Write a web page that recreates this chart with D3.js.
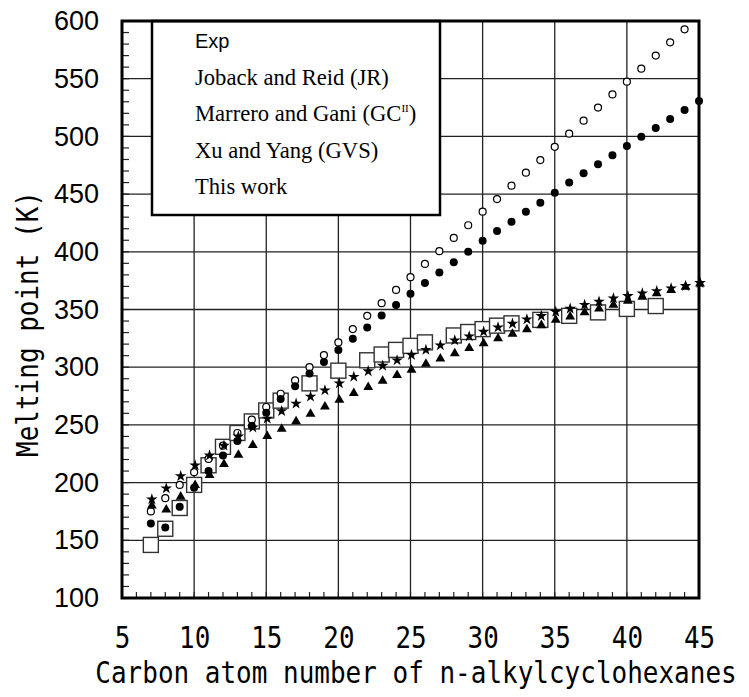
<!DOCTYPE html>
<html>
<head>
<meta charset="utf-8">
<script src="https://cdn.jsdelivr.net/npm/d3@7"></script>
<style>
  body { margin: 0; background: #fff; }
</style>
</head>
<body>
<div id="chart"></div>
<script>
// melting points (K) of n-alkylcyclohexanes
var expN = [7,8,9,10,11,12,13,14,15,16,18,20,22,23,24,25,26,28,29,30,31,32,34,36,38,40,42];
var expT = [146,160,178,198,215,231,243,253,262.5,271,286,297,306,311,315,318.5,321.5,327.5,330.5,333,336,338,341,344.5,347.5,350.5,353];

var jrN = [7,8,9,10,11,12,13,14,15,16,17,18,19,20,21,22,23,24,25,26,27,28,29,30,31,32,33,34,35,36,37,38,39,40,41,42,43,44];
var jrT = [175,186.5,198,209,220.5,232,243,254.5,265.5,277,288.5,300,310.5,321.5,333,344.5,355.5,367,378,389.5,400.5,412,423,434.8,445.7,457.3,468.6,479.5,491,502.4,513.6,525,536.4,547.4,558.7,570,581.5,592.8];

var allN = [7,8,9,10,11,12,13,14,15,16,17,18,19,20,21,22,23,24,25,26,27,28,29,30,31,32,33,34,35,36,37,38,39,40,41,42,43,44,45];
var gcT = [164.5,161,179,195.5,210,223.5,236,249,260.5,272.5,283.6,294.5,304.5,315,324.7,334.5,344.7,354,363.7,373,382,391,400,409.5,418,426,434.8,442.6,451.2,460,468,475.8,483.6,491.7,499.8,507.3,515,522.9,530.7];
var gvsT = [185.5,195,205.6,215,223.5,232,240,247.8,255.5,262,268.5,274.5,280,286,291.7,296.5,301.3,306,310.6,315,319,323.3,326.8,330.8,334.5,337.7,341.5,344.4,348,350.7,354,356.8,359.7,361.7,364,366,368.3,370.4,373];
var thisT = [180,176.5,187.7,197.7,206.4,216,224,232.5,240.2,246.6,253,259.5,265.8,271.7,277.4,282.7,288.2,293,297.6,302.8,307.4,312,316.5,320.7,325,328.8,332.8,336.3,341,343.8,347.5,350.7,354,357.4,361,364,366.8,369.6,372.5];

var xTicks = [5,10,15,20,25,30,35,40,45];
var yTicks = [100,150,200,250,300,350,400,450,500,550,600];
var legendLabels = ["Exp", "Joback and Reid (JR)", "Marrero and Gani (GC", "Xu and Yang (GVS)", "This work"];

var W = 749, H = 697;
var pL = 122, pR = 699, pT = 21, pB = 598;

var svg = d3.select("#chart").append("svg")
    .attr("width", W)
    .attr("height", H);

var x = d3.scaleLinear().domain([5, 45]).range([pL, pR]);
var y = d3.scaleLinear().domain([100, 600]).range([pB, pT]);

var pts = function(ns, vs) {
  return ns.map(function(n, i) { return {n: n, t: vs[i]}; });
};

// grid
svg.append("g").selectAll("line")
  .data(xTicks.filter(function(d) { return d > 5 && d < 45; }))
  .enter().append("line")
  .attr("x1", function(d) { return x(d); }).attr("x2", function(d) { return x(d); })
  .attr("y1", pT).attr("y2", pB)
  .attr("stroke", "#222").attr("stroke-width", 1.3);
svg.append("g").selectAll("line")
  .data(yTicks.filter(function(d) { return d > 100 && d < 600; }))
  .enter().append("line")
  .attr("y1", function(d) { return y(d); }).attr("y2", function(d) { return y(d); })
  .attr("x1", pL).attr("x2", pR)
  .attr("stroke", "#222").attr("stroke-width", 1.3);

// minor ticks, inside
svg.append("g").selectAll("line")
  .data(d3.range(110, 600, 10))
  .enter().append("line")
  .attr("y1", function(d) { return y(d); }).attr("y2", function(d) { return y(d); })
  .attr("x1", pL).attr("x2", pL + 7)
  .attr("stroke", "#222").attr("stroke-width", 1.2);
svg.append("g").selectAll("line")
  .data(d3.range(6, 45, 1))
  .enter().append("line")
  .attr("x1", function(d) { return x(d); }).attr("x2", function(d) { return x(d); })
  .attr("y1", pB).attr("y2", pB - 6)
  .attr("stroke", "#222").attr("stroke-width", 1.2);

// axes labels
var yAxis = svg.append("g")
  .attr("transform", "translate(" + pL + ",0)")
  .call(d3.axisLeft(y).tickValues(yTicks).tickSize(0).tickPadding(23));
yAxis.select(".domain").remove();
yAxis.selectAll("text")
  .attr("font-family", "'Liberation Sans', Arial, sans-serif")
  .attr("font-size", 27).attr("fill", "#000");

var xAxis = svg.append("g")
  .attr("transform", "translate(0," + pB + ")")
  .call(d3.axisBottom(x).tickValues(xTicks).tickSize(0).tickPadding(0));
xAxis.select(".domain").remove();
xAxis.selectAll("text")
  .attr("dy", null)
  .attr("y", 50)
  .attr("font-family", "'DejaVu Sans Mono', monospace")
  .attr("font-size", 30).attr("fill", "#000")
  .attr("textLength", function(d) { return String(d).length * 15.6; })
  .attr("lengthAdjust", "spacingAndGlyphs");

// narrow monospace titles: smaller font stretched vertically
svg.append("text")
  .attr("transform", "translate(416,683) scale(1,1.14)")
  .attr("text-anchor", "middle")
  .attr("font-family", "'DejaVu Sans Mono', monospace")
  .attr("font-size", 26)
  .text("Carbon atom number of n-alkylcyclohexanes");

svg.append("text")
  .attr("transform", "translate(38,324) rotate(-90) scale(1,1.14)")
  .attr("text-anchor", "middle")
  .attr("font-family", "'DejaVu Sans Mono', monospace")
  .attr("font-size", 26)
  .text("Melting point (K)");

// legend box (text only)
var lg = svg.append("g");
lg.append("rect")
  .attr("x", 152).attr("y", 21).attr("width", 288).attr("height", 194)
  .attr("fill", "#fff").attr("stroke", "#000").attr("stroke-width", 2.5);
lg.selectAll("text")
  .data(legendLabels)
  .enter().append("text")
  .attr("x", 195)
  .attr("y", function(d, i) { return 48 + i * 36.6; })
  .attr("font-family", function(d, i) { return i == 0 ? "'Liberation Sans', Arial, sans-serif" : "'Liberation Serif', 'Times New Roman', serif"; })
  .attr("font-size", function(d, i) { return i == 0 ? 20 : 22.6; })
  .each(function(d, i) {
    var t = d3.select(this);
    t.append("tspan").text(d);
    if (i == 2) {
      t.append("tspan").attr("font-size", 11).attr("dy", -9).text("II");
      t.append("tspan").attr("dy", 9).text(")");
    }
  });

// data
svg.append("g").selectAll("rect")
  .data(pts(expN, expT))
  .enter().append("rect")
  .attr("x", function(d) { return x(d.n) - 7.5; })
  .attr("y", function(d) { return y(d.t) - 7.5; })
  .attr("width", 15).attr("height", 15)
  .attr("fill", "#fff").attr("stroke", "#333").attr("stroke-width", 1.4);

svg.append("g").selectAll("circle")
  .data(pts(jrN, jrT))
  .enter().append("circle")
  .attr("cx", function(d) { return x(d.n); })
  .attr("cy", function(d) { return y(d.t); })
  .attr("r", 3.5)
  .attr("fill", "#fff").attr("stroke", "#000").attr("stroke-width", 1.2);

svg.append("g").selectAll("circle")
  .data(pts(allN, gcT))
  .enter().append("circle")
  .attr("cx", function(d) { return x(d.n); })
  .attr("cy", function(d) { return y(d.t); })
  .attr("r", 4)
  .attr("fill", "#000");

svg.append("g").selectAll("path")
  .data(pts(allN, thisT))
  .enter().append("path")
  .attr("d", d3.symbol().type(d3.symbolTriangle).size(42))
  .attr("transform", function(d) { return "translate(" + (x(d.n) + 1) + "," + y(d.t) + ")"; })
  .attr("fill", "#000");

svg.append("g").selectAll("path")
  .data(pts(allN, gvsT))
  .enter().append("path")
  .attr("d", d3.symbol().type(d3.symbolStar).size(42))
  .attr("transform", function(d) { return "translate(" + (x(d.n) + 1) + "," + y(d.t) + ")"; })
  .attr("fill", "#000");

// frame
svg.append("rect")
  .attr("x", pL).attr("y", pT)
  .attr("width", pR - pL).attr("height", pB - pT)
  .attr("fill", "none").attr("stroke", "#000").attr("stroke-width", 3);
</script>
</body>
</html>
